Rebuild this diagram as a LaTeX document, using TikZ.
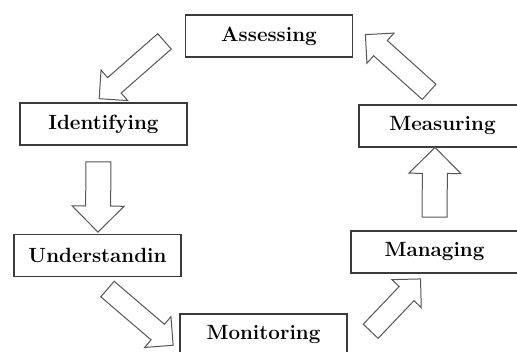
\documentclass[tikz,border=0pt]{standalone}
\usepackage{fontspec}
\usepackage{xcolor}
\usepackage{tikz}
\usetikzlibrary{shapes.arrows,calc}
\definecolor{boxgray}{HTML}{3A3A3A}
\definecolor{arrowgray}{HTML}{555555}
\tikzset{
  stage/.style={draw=boxgray, line width=1.3pt, fill=white, minimum width=167pt, minimum height=42pt,
    inner sep=0pt, font=\fontsize{20.6pt}{24pt}\selectfont\bfseries},
  blockarrow/.style={single arrow, draw=arrowgray, line width=1pt, fill=white, inner xsep=0pt,
    single arrow tip angle=90},
}

\begin{document}
\begin{tikzpicture}[x=1pt,y=1pt]
  \useasboundingbox (0,0) rectangle (517,352);
  % Stages
  \node[stage] (assess) at (269,316)   {Assessing};
  \node[stage] (ident)  at (103.5,228) {Identifying};
  \node[stage] (under)  at (97.5,96.5) {Understandin};
  \node[stage] (monit)  at (263.5,17)  {Monitoring};
  \node[stage] (manag)  at (434.5,100) {Managing};
  \node[stage] (measur) at (442.5,226) {Measuring};
  % Arrow ends
  \coordinate (t1) at ($(assess.west)+(-16.5,-2)$);
  \coordinate (h1) at ($(ident.north)+(-0.5,7)$);
  \coordinate (t2) at ($(ident.south)+(-5,-10)$);
  \coordinate (h2) at ($(under.north)+(0.5,8)$);
  \coordinate (t3) at ($(under.south)+(6,-8.5)$);
  \coordinate (h3) at ($(monit.west)+(-10,-7)$);
  \coordinate (t4) at ($(monit.east)+(19.5,0)$);
  \coordinate (h4) at ($(manag.south)+(-17.5,-9)$);
  \coordinate (t5) at ($(manag.north)+(0,7)$);
  \coordinate (h5) at ($(measur.south)+(-7.5,-6)$);
  \coordinate (t6) at ($(measur.north)+(-9.5,9)$);
  \coordinate (h6) at ($(assess.east)+(16,-2)$);
  % Block arrows (shaft half width / head extend)
  \foreach \a/\b/\s/\e in {t1/h1/9.75/10, t2/h2/12/13.5, t3/h3/9.75/10, t4/h4/9.75/10, t5/h5/12/13.5, t6/h6/9.75/10} {
    \path let \p1=(\a), \p2=(\b), \n1={atan2(\y2-\y1,\x2-\x1)}, \n2={veclen(\x2-\x1,\y2-\y1)} in
      node[blockarrow, inner ysep=\s pt, single arrow head extend=\e pt, minimum height=\n2, rotate=\n1]
        at ($(\a)!0.5!(\b)$) {};
  }
\end{tikzpicture}
\end{document}
